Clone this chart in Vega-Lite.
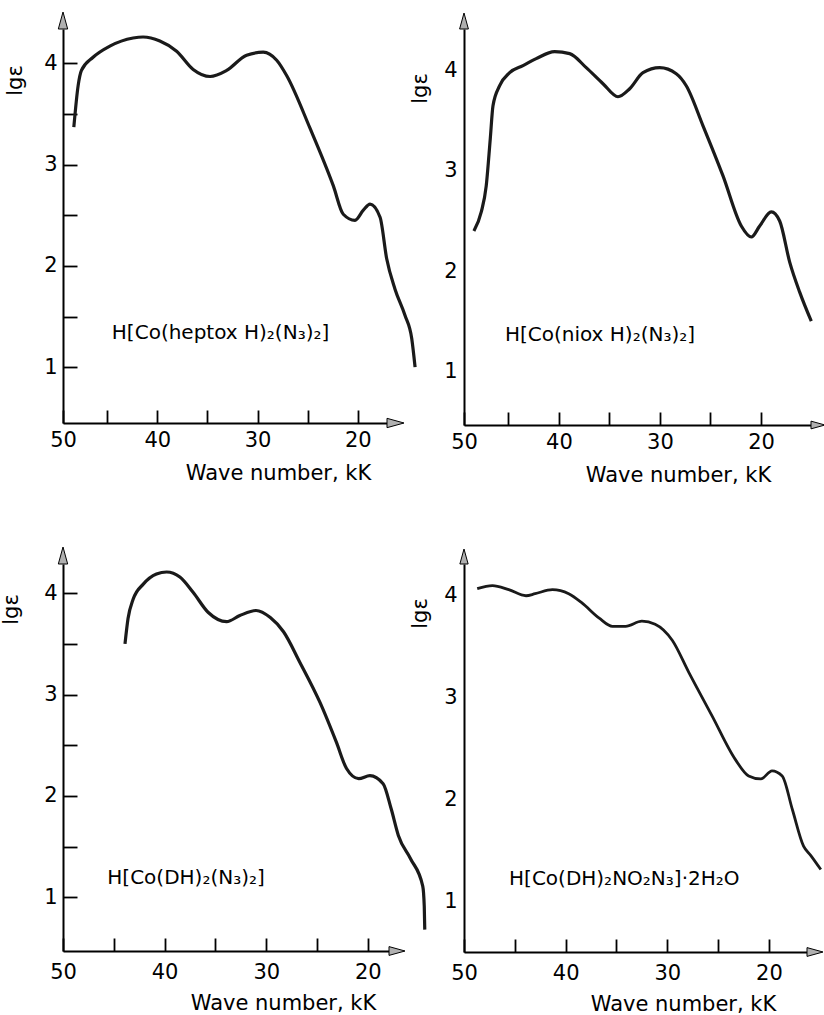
{
 "$schema": "https://vega.github.io/schema/vega-lite/v6.json",
 "autosize": {"type": "pad"},
 "padding": {"left": 0, "top": 10, "right": 0, "bottom": 0},
 "background": "white",
 "config": {
  "view": {"stroke": null},
  "font": "DejaVu Sans",
  "axis": {"grid": false, "domainColor": "#000", "domainWidth": 2, "tickColor": "#000", "tickWidth": 1.8, "labelColor": "#000", "labelFont": "DejaVu Sans", "labelFontSize": 21, "titleFont": "DejaVu Sans", "titleFontSize": 21, "titleFontWeight": "normal", "titleColor": "#000", "labelFlush": false, "labelOverlap": false, "labelBound": false, "format": "d"}
 },
 "datasets": {
  "p1": [
   {"wn": 48.32, "lg": 3.37}, {"wn": 47.89, "lg": 3.78}, {"wn": 47.56, "lg": 3.93}, {"wn": 46.40, "lg": 4.06}, {"wn": 44.73, "lg": 4.17}, {"wn": 42.41, "lg": 4.25}, {"wn": 41.41, "lg": 4.26}, {"wn": 39.74, "lg": 4.22}, {"wn": 38.07, "lg": 4.12}, {"wn": 36.42, "lg": 3.94}, {"wn": 34.73, "lg": 3.87}, {"wn": 33.08, "lg": 3.93}, {"wn": 31.09, "lg": 4.08}, {"wn": 29.43, "lg": 4.11}, {"wn": 28.09, "lg": 4.03}, {"wn": 27.10, "lg": 3.88}, {"wn": 24.77, "lg": 3.36}, {"wn": 22.44, "lg": 2.79}, {"wn": 21.45, "lg": 2.51}, {"wn": 20.28, "lg": 2.45}, {"wn": 19.45, "lg": 2.55}, {"wn": 18.78, "lg": 2.61}, {"wn": 17.78, "lg": 2.48}, {"wn": 17.12, "lg": 2.07}, {"wn": 16.29, "lg": 1.77}, {"wn": 15.29, "lg": 1.51}, {"wn": 14.62, "lg": 1.28}, {"wn": 14.29, "lg": 1.00}
  ],
  "p2": [
   {"wn": 48.42, "lg": 2.40}, {"wn": 47.69, "lg": 2.59}, {"wn": 47.20, "lg": 2.85}, {"wn": 46.80, "lg": 3.32}, {"wn": 46.53, "lg": 3.65}, {"wn": 45.87, "lg": 3.85}, {"wn": 44.88, "lg": 3.98}, {"wn": 43.56, "lg": 4.05}, {"wn": 42.25, "lg": 4.12}, {"wn": 40.43, "lg": 4.19}, {"wn": 38.94, "lg": 4.17}, {"wn": 37.30, "lg": 4.03}, {"wn": 35.64, "lg": 3.87}, {"wn": 34.16, "lg": 3.74}, {"wn": 33.00, "lg": 3.82}, {"wn": 31.68, "lg": 3.98}, {"wn": 30.03, "lg": 4.03}, {"wn": 28.39, "lg": 3.97}, {"wn": 27.40, "lg": 3.85}, {"wn": 25.74, "lg": 3.45}, {"wn": 23.76, "lg": 2.95}, {"wn": 21.95, "lg": 2.45}, {"wn": 20.96, "lg": 2.34}, {"wn": 20.13, "lg": 2.45}, {"wn": 18.98, "lg": 2.59}, {"wn": 18.15, "lg": 2.50}, {"wn": 17.16, "lg": 2.09}, {"wn": 16.17, "lg": 1.79}, {"wn": 15.02, "lg": 1.50}
  ],
  "p3": [
   {"wn": 43.9, "lg": 3.50}, {"wn": 43.6, "lg": 3.75}, {"wn": 43.1, "lg": 3.94}, {"wn": 42.1, "lg": 4.09}, {"wn": 40.8, "lg": 4.19}, {"wn": 39.8, "lg": 4.21}, {"wn": 38.5, "lg": 4.16}, {"wn": 37.2, "lg": 4.01}, {"wn": 35.7, "lg": 3.81}, {"wn": 33.9, "lg": 3.72}, {"wn": 32.6, "lg": 3.78}, {"wn": 31.0, "lg": 3.83}, {"wn": 29.6, "lg": 3.76}, {"wn": 28.3, "lg": 3.62}, {"wn": 26.7, "lg": 3.32}, {"wn": 24.7, "lg": 2.92}, {"wn": 23.1, "lg": 2.53}, {"wn": 22.1, "lg": 2.27}, {"wn": 20.9, "lg": 2.17}, {"wn": 19.8, "lg": 2.20}, {"wn": 18.5, "lg": 2.12}, {"wn": 17.7, "lg": 1.87}, {"wn": 17.0, "lg": 1.61}, {"wn": 15.8, "lg": 1.38}, {"wn": 14.6, "lg": 1.11}, {"wn": 14.45, "lg": 0.91}, {"wn": 14.4, "lg": 0.68}
  ],
  "p4": [
   {"wn": 48.7, "lg": 4.07}, {"wn": 47.2, "lg": 4.10}, {"wn": 45.6, "lg": 4.06}, {"wn": 43.9, "lg": 4.00}, {"wn": 43.0, "lg": 4.02}, {"wn": 41.3, "lg": 4.06}, {"wn": 39.7, "lg": 4.02}, {"wn": 38.4, "lg": 3.93}, {"wn": 36.7, "lg": 3.78}, {"wn": 35.4, "lg": 3.70}, {"wn": 34.1, "lg": 3.70}, {"wn": 32.5, "lg": 3.75}, {"wn": 31.2, "lg": 3.72}, {"wn": 29.5, "lg": 3.56}, {"wn": 27.9, "lg": 3.25}, {"wn": 25.6, "lg": 2.82}, {"wn": 23.3, "lg": 2.39}, {"wn": 22.0, "lg": 2.23}, {"wn": 20.8, "lg": 2.20}, {"wn": 19.7, "lg": 2.28}, {"wn": 18.7, "lg": 2.23}, {"wn": 17.7, "lg": 1.90}, {"wn": 16.6, "lg": 1.54}, {"wn": 15.9, "lg": 1.45}, {"wn": 14.9, "lg": 1.31}
  ]
 },
 "columns": 2,
 "bounds": "flush",
 "align": "each",
 "spacing": {"row": 139, "column": 75},
 "concat": [
  {
   "width": 324, "height": 394,
   "layer": [
    {"data": {"name": "p1"},
     "mark": {"type": "line", "interpolate": "monotone", "stroke": "#1a1a1a", "strokeWidth": 3.2},
     "encoding": {
      "x": {"field": "wn", "type": "quantitative", "scale": {"domain": [17.09, 49.4], "reverse": true, "nice": false, "zero": false},
       "axis": {"title": "Wave number, kK", "values": [49.4, 45, 40, 35, 30, 25, 20], "labelExpr": "datum.value > 49 ? '50' : (datum.value % 10 == 0 ? datum.label : '')", "tickSize": -13, "labelPadding": 19, "titleX": 215, "titleY": 39,
        "encode": {"ticks": {"update": {"y2": {"signal": "datum.value > 49 ? 0 : (datum.value % 10 == 0 ? -13 : -9)"}}}}}},
      "y": {"field": "lg", "type": "quantitative", "scale": {"domain": [0.449, 4.339], "nice": false, "zero": false},
       "axis": {"title": "lgε", "values": [1, 1.5, 2, 2.5, 3, 3.5, 4], "labelExpr": "datum.value % 1 == 0 ? datum.label : ''", "tickSize": -14, "labelPadding": 20, "titleX": -38, "titleY": 51,
        "encode": {"ticks": {"update": {"x2": {"signal": "datum.value % 1 == 0 ? 14 : 9"}}}}}}
     }},
    {"data": {"values": [{"label": "H[Co(heptox H)₂(N₃)₂]"}]},
     "mark": {"type": "text", "align": "left", "baseline": "middle", "font": "DejaVu Sans", "fontSize": 20, "color": "#000"},
     "encoding": {"x": {"datum": 44.53, "type": "quantitative"}, "y": {"datum": 1.34, "type": "quantitative"}, "text": {"field": "label"}}},
    {"data": {"values": [{"arrow": "x"}]},
     "mark": {"type": "point", "shape": "M0,-0.55L2,0L0,0.55Z", "size": 289, "filled": true, "fill": "#b0b0b0", "stroke": "#000", "strokeWidth": 1, "opacity": 1},
     "encoding": {"x": {"datum": 17.09, "type": "quantitative"}, "y": {"datum": 0.449, "type": "quantitative"}}},
    {"data": {"values": [{"arrow": "y"}]},
     "mark": {"type": "point", "shape": "M-0.55,0L0,-2L0.55,0Z", "size": 289, "filled": true, "fill": "#b0b0b0", "stroke": "#000", "strokeWidth": 1, "opacity": 1},
     "encoding": {"x": {"datum": 49.4, "type": "quantitative"}, "y": {"datum": 4.339, "type": "quantitative"}}}
   ]
  },
  {
   "width": 347, "height": 396,
   "layer": [
    {"data": {"name": "p2"},
     "mark": {"type": "line", "interpolate": "monotone", "stroke": "#1a1a1a", "strokeWidth": 3.2},
     "encoding": {
      "x": {"field": "wn", "type": "quantitative", "scale": {"domain": [15.05, 49.4], "reverse": true, "nice": false, "zero": false},
       "axis": {"title": "Wave number, kK", "values": [49.4, 45, 40, 35, 30, 25, 20], "labelExpr": "datum.value > 49 ? '50' : (datum.value % 10 == 0 ? datum.label : '')", "tickSize": -13, "labelPadding": 19, "titleX": 214, "titleY": 39,
        "encode": {"ticks": {"update": {"y2": {"signal": "datum.value > 49 ? 0 : (datum.value % 10 == 0 ? -13 : -9)"}}}}}},
      "y": {"field": "lg", "type": "quantitative", "scale": {"domain": [0.464, 4.416], "nice": false, "zero": false},
       "axis": {"title": "lgε", "values": [1, 2, 3, 4], "ticks": false, "tickSize": 0, "labelPadding": 7, "titleX": -34, "titleY": 59}}
     }},
    {"data": {"values": [{"label": "H[Co(niox H)₂(N₃)₂]"}]},
     "mark": {"type": "text", "align": "left", "baseline": "middle", "font": "DejaVu Sans", "fontSize": 20, "color": "#000"},
     "encoding": {"x": {"datum": 45.35, "type": "quantitative"}, "y": {"datum": 1.36, "type": "quantitative"}, "text": {"field": "label"}}},
    {"data": {"values": [{"arrow": "x"}]},
     "mark": {"type": "point", "shape": "M0,-0.55L2,0L0,0.55Z", "size": 196, "filled": true, "fill": "#b0b0b0", "stroke": "#000", "strokeWidth": 1, "opacity": 1},
     "encoding": {"x": {"datum": 15.05, "type": "quantitative"}, "y": {"datum": 0.464, "type": "quantitative"}}},
    {"data": {"values": [{"arrow": "y"}]},
     "mark": {"type": "point", "shape": "M-0.55,0L0,-2L0.55,0Z", "size": 256, "filled": true, "fill": "#b0b0b0", "stroke": "#000", "strokeWidth": 1, "opacity": 1},
     "encoding": {"x": {"datum": 49.4, "type": "quantitative"}, "y": {"datum": 4.416, "type": "quantitative"}}}
   ]
  },
  {
   "width": 326, "height": 387,
   "layer": [
    {"data": {"name": "p3"},
     "mark": {"type": "line", "interpolate": "monotone", "stroke": "#1a1a1a", "strokeWidth": 3.2},
     "encoding": {
      "x": {"field": "wn", "type": "quantitative", "scale": {"domain": [17.92, 50], "reverse": true, "nice": false, "zero": false},
       "axis": {"title": "Wave number, kK", "values": [50, 45, 40, 35, 30, 25, 20], "labelExpr": "datum.value % 10 == 0 ? datum.label : ''", "tickSize": -13, "labelPadding": 23, "titleX": 220, "titleY": 41,
        "encode": {"ticks": {"update": {"y2": {"signal": "datum.value == 50 ? 0 : (datum.value % 10 == 0 ? -13 : -9)"}}}}}},
      "y": {"field": "lg", "type": "quantitative", "scale": {"domain": [0.469, 4.289], "nice": false, "zero": false},
       "axis": {"title": "lgε", "values": [1, 1.5, 2, 2.5, 3, 3.5, 4], "labelExpr": "datum.value % 1 == 0 ? datum.label : ''", "tickSize": -14, "labelPadding": 20, "titleX": -42, "titleY": 45,
        "encode": {"ticks": {"update": {"x2": {"signal": "datum.value % 1 == 0 ? 14 : 9"}}}}}}
     }},
    {"data": {"values": [{"label": "H[Co(DH)₂(N₃)₂]"}]},
     "mark": {"type": "text", "align": "left", "baseline": "middle", "font": "DejaVu Sans", "fontSize": 20, "color": "#000"},
     "encoding": {"x": {"datum": 45.64, "type": "quantitative"}, "y": {"datum": 1.19, "type": "quantitative"}, "text": {"field": "label"}}},
    {"data": {"values": [{"arrow": "x"}]},
     "mark": {"type": "point", "shape": "M0,-0.55L2,0L0,0.55Z", "size": 256, "filled": true, "fill": "#b0b0b0", "stroke": "#000", "strokeWidth": 1, "opacity": 1},
     "encoding": {"x": {"datum": 17.92, "type": "quantitative"}, "y": {"datum": 0.469, "type": "quantitative"}}},
    {"data": {"values": [{"arrow": "y"}]},
     "mark": {"type": "point", "shape": "M-0.55,0L0,-2L0.55,0Z", "size": 289, "filled": true, "fill": "#b0b0b0", "stroke": "#000", "strokeWidth": 1, "opacity": 1},
     "encoding": {"x": {"datum": 50, "type": "quantitative"}, "y": {"datum": 4.289, "type": "quantitative"}}}
   ]
  },
  {
   "width": 343, "height": 388,
   "layer": [
    {"data": {"name": "p4"},
     "mark": {"type": "line", "interpolate": "monotone", "stroke": "#1a1a1a", "strokeWidth": 2.8},
     "encoding": {
      "x": {"field": "wn", "type": "quantitative", "scale": {"domain": [16.26, 50], "reverse": true, "nice": false, "zero": false},
       "axis": {"title": "Wave number, kK", "values": [50, 45, 40, 35, 30, 25, 20], "labelExpr": "datum.value % 10 == 0 ? datum.label : ''", "tickSize": -13, "labelPadding": 23, "titleX": 219, "titleY": 41,
        "encode": {"ticks": {"update": {"y2": {"signal": "datum.value == 50 ? 0 : (datum.value % 10 == 0 ? -13 : -9)"}}}}}},
      "y": {"field": "lg", "type": "quantitative", "scale": {"domain": [0.50, 4.312], "nice": false, "zero": false},
       "axis": {"title": "lgε", "values": [1, 2, 3, 4], "ticks": false, "tickSize": 0, "labelPadding": 7, "titleX": -34, "titleY": 49}}
     }},
    {"data": {"values": [{"label": "H[Co(DH)₂NO₂N₃]·2H₂O"}]},
     "mark": {"type": "text", "align": "left", "baseline": "middle", "font": "DejaVu Sans", "fontSize": 20, "color": "#000"},
     "encoding": {"x": {"datum": 45.57, "type": "quantitative"}, "y": {"datum": 1.22, "type": "quantitative"}, "text": {"field": "label"}}},
    {"data": {"values": [{"arrow": "x"}]},
     "mark": {"type": "point", "shape": "M0,-0.55L2,0L0,0.55Z", "size": 256, "filled": true, "fill": "#b0b0b0", "stroke": "#000", "strokeWidth": 1, "opacity": 1},
     "encoding": {"x": {"datum": 16.26, "type": "quantitative"}, "y": {"datum": 0.50, "type": "quantitative"}}},
    {"data": {"values": [{"arrow": "y"}]},
     "mark": {"type": "point", "shape": "M-0.55,0L0,-2L0.55,0Z", "size": 225, "filled": true, "fill": "#b0b0b0", "stroke": "#000", "strokeWidth": 1, "opacity": 1},
     "encoding": {"x": {"datum": 50, "type": "quantitative"}, "y": {"datum": 4.312, "type": "quantitative"}}}
   ]
  }
 ]
}
